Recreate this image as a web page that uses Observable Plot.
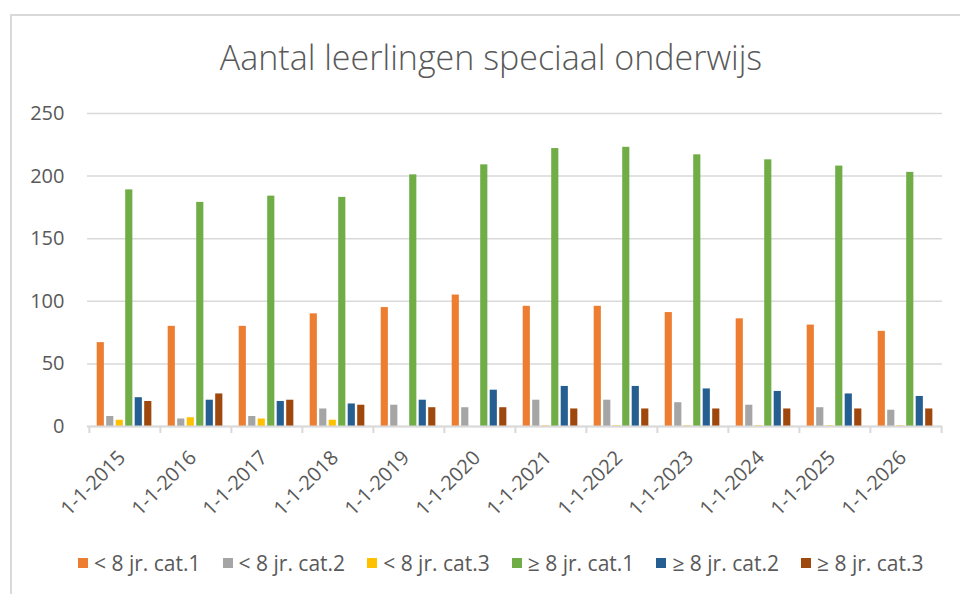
<!DOCTYPE html>
<html>
<head>
<meta charset="utf-8">
<script src="https://cdn.jsdelivr.net/npm/d3@7"></script>
<script src="https://cdn.jsdelivr.net/npm/@observablehq/plot@0.6"></script>
<style>
  html, body { margin: 0; padding: 0; background: #fff; }
  #wrap { position: relative; width: 960px; height: 594px; overflow: hidden; font-family: "Open Sans", sans-serif; color: #595959; }
  #border { position: absolute; left: 10px; top: 14px; width: 960px; height: 600px; border-left: 2px solid #d9d9d9; border-top: 2px solid #d9d9d9; box-sizing: border-box; }
  #title { position: absolute; left: 0; width: 982px; top: 40px; line-height: 34px; text-align: center; font-size: 34px; font-weight: 300; color: #595959; white-space: nowrap; }
  #chart { position: absolute; left: 0; top: 0; }
  #legend { position: absolute; left: 0; top: 549px; width: 960px; height: 30px; }
  .item { position: absolute; top: 0; display: flex; align-items: center; height: 28px; font-size: 21px; white-space: nowrap; color: #595959; }
  .sw { width: 10px; height: 10px; margin-right: 6px; display: inline-block; }
</style>
</head>
<body>
<div id="wrap">
  <div id="border"></div>
  <div id="title"></div>
  <div id="chart"></div>
  <div id="legend"></div>
</div>
<script>
const title = "Aantal leerlingen speciaal onderwijs";
const years = ["1-1-2015","1-1-2016","1-1-2017","1-1-2018","1-1-2019","1-1-2020","1-1-2021","1-1-2022","1-1-2023","1-1-2024","1-1-2025","1-1-2026"];
const series = ["< 8 jr. cat.1","< 8 jr. cat.2","< 8 jr. cat.3","≥ 8 jr. cat.1","≥ 8 jr. cat.2","≥ 8 jr. cat.3"];
const lt8cat1 = [67, 80, 80, 90, 95, 105, 96, 96, 91, 86, 81, 76];
const lt8cat2 = [8, 6, 8, 14, 17, 15, 21, 21, 19, 17, 15, 13];
const lt8cat3 = [5, 7, 6, 5, 0, 0, 0.5, 0.5, 0.5, 0.5, 0.5, 0.5];
const ge8cat1 = [189, 179, 184, 183, 201, 209, 222, 223, 217, 213, 208, 203];
const ge8cat2 = [23, 21, 20, 18, 21, 29, 32, 32, 30, 28, 26, 24];
const ge8cat3 = [20, 26, 21, 17, 15, 15, 14, 14, 14, 14, 14, 14];
const yTicks = [0, 50, 100, 150, 200, 250];
const colors = ["#ED7D31","#A5A5A5","#FFC000","#70AD47","#255E91","#9E480E"];

const values = [lt8cat1, lt8cat2, lt8cat3, ge8cat1, ge8cat2, ge8cat3];
const rows = [];
series.forEach((s, si) => years.forEach((y, yi) => rows.push({series: s, year: y, value: values[si][yi]})));

document.getElementById("title").textContent = title;

const W = 960, H = 540, mL = 87, mR = 18, mT = 113, mB = 114;
const bw = (W - mL - mR) / years.length;
const firstOffset = 7.7, pitch = 9.5, barW = 7.4;

const barMarks = series.map((s, i) => {
  const left = firstOffset + pitch * i;
  return Plot.barY(rows.filter(d => d.series === s), {
    x: "year", y: "value", fill: "series",
    insetLeft: left, insetRight: bw - left - barW
  });
});

const chart = Plot.plot({
  width: W, height: H,
  marginLeft: mL, marginRight: mR, marginTop: mT, marginBottom: mB,
  style: {fontFamily: "Open Sans, sans-serif", fontSize: "20px", color: "#595959", background: "transparent"},
  x: {domain: years, padding: 0, axis: null},
  y: {domain: [0, 250], axis: null},
  color: {domain: series, range: colors},
  marks: [
    Plot.gridY(yTicks, {stroke: "#d9d9d9", strokeOpacity: 1, strokeWidth: 1.5}),
    ...barMarks,
    Plot.ruleY([0], {stroke: "#d9d9d9", strokeWidth: 2}),
    Plot.axisY({ticks: yTicks, tickSize: 0, tickPadding: 23, fontSize: 20, fill: "#595959", label: null}),
    Plot.axisX({ticks: years, text: null, tickSize: 7, stroke: "#d9d9d9", strokeWidth: 2, dx: -bw / 2, label: null}),
    Plot.axisX({ticks: [years[years.length - 1]], text: null, tickSize: 7, stroke: "#d9d9d9", strokeWidth: 2, dx: bw / 2, label: null}),
    Plot.axisX({ticks: years, tickSize: 0, tickPadding: 21, dx: -3, dy: 7, tickRotate: -45, fontSize: 20, fill: "#595959", label: null})
  ]
});
document.getElementById("chart").appendChild(chart);

const legend = document.getElementById("legend");
series.forEach((s, i) => {
  const it = document.createElement("div");
  it.className = "item";
  it.style.left = (78 + i * 144.6) + "px";
  const sw = document.createElement("span");
  sw.className = "sw";
  sw.style.background = colors[i];
  const tx = document.createElement("span");
  tx.textContent = s;
  it.appendChild(sw); it.appendChild(tx);
  legend.appendChild(it);
});
</script>
</body>
</html>
